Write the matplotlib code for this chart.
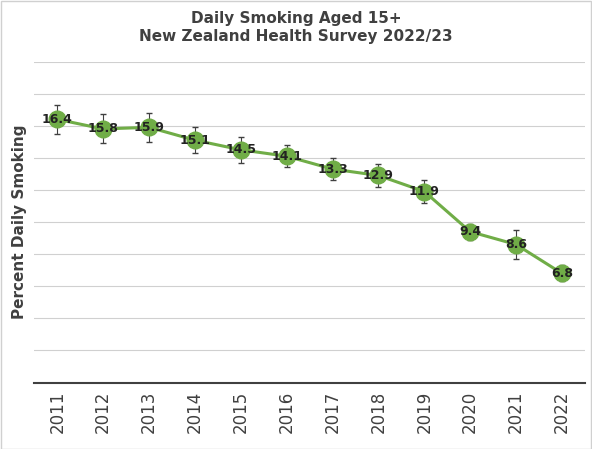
import matplotlib.pyplot as plt
from matplotlib.patches import Rectangle

years = ['2011','2012','2013','2014','2015','2016','2017','2018','2019','2020','2021','2022']
values = [16.4,15.8,15.9,15.1,14.5,14.1,13.3,12.9,11.9,9.4,8.6,6.8]
errs = [0.9,0.9,0.9,0.8,0.8,0.7,0.7,0.7,0.7,0.5,0.9,0.5]

fig = plt.figure(figsize=(5.92,4.49), dpi=100)
ax = fig.add_axes([0.058,0.148,0.93,0.715])
x = range(len(years))
ax.errorbar(x, values, yerr=errs, color='#70ad47', lw=2.2, marker='o', ms=12,
            mfc='#70ad47', mec='#70ad47', ecolor='#404040', elinewidth=0.8, capsize=2, zorder=3)
for i, v in enumerate(values):
    ax.text(i, v, f'{v}', ha='center', va='center', fontsize=9, fontweight='bold', color='#222222', zorder=4)
ax.set_ylim(0, 20)
ax.set_xlim(-0.5, len(years)-0.5)
ax.set_yticks(range(0, 21, 2))
ax.set_yticklabels([])
ax.tick_params(axis='y', length=0)
ax.tick_params(axis='x', length=0, pad=6)
ax.grid(axis='y', color='#d0d0d0', lw=0.8)
ax.set_axisbelow(True)
ax.set_xticks(list(x))
ax.set_xticklabels(years, rotation=90, fontsize=12, color='#404040')
for s in ['top','right','left']:
    ax.spines[s].set_visible(False)
ax.spines['bottom'].set_color('#404040')
ax.spines['bottom'].set_linewidth(1.5)
ax.set_ylabel('Percent Daily Smoking', fontsize=11, fontweight='bold', color='#404040', labelpad=2)
fig.suptitle('Daily Smoking Aged 15+\nNew Zealand Health Survey 2022/23', fontsize=11,
             fontweight='bold', color='#404040', y=0.975)
fig.patches.append(Rectangle((0.001,0.001),0.997,0.997, transform=fig.transFigure,
                             fill=False, ec='#d0d0d0', lw=1))
fig.savefig('out.png', dpi=100)
